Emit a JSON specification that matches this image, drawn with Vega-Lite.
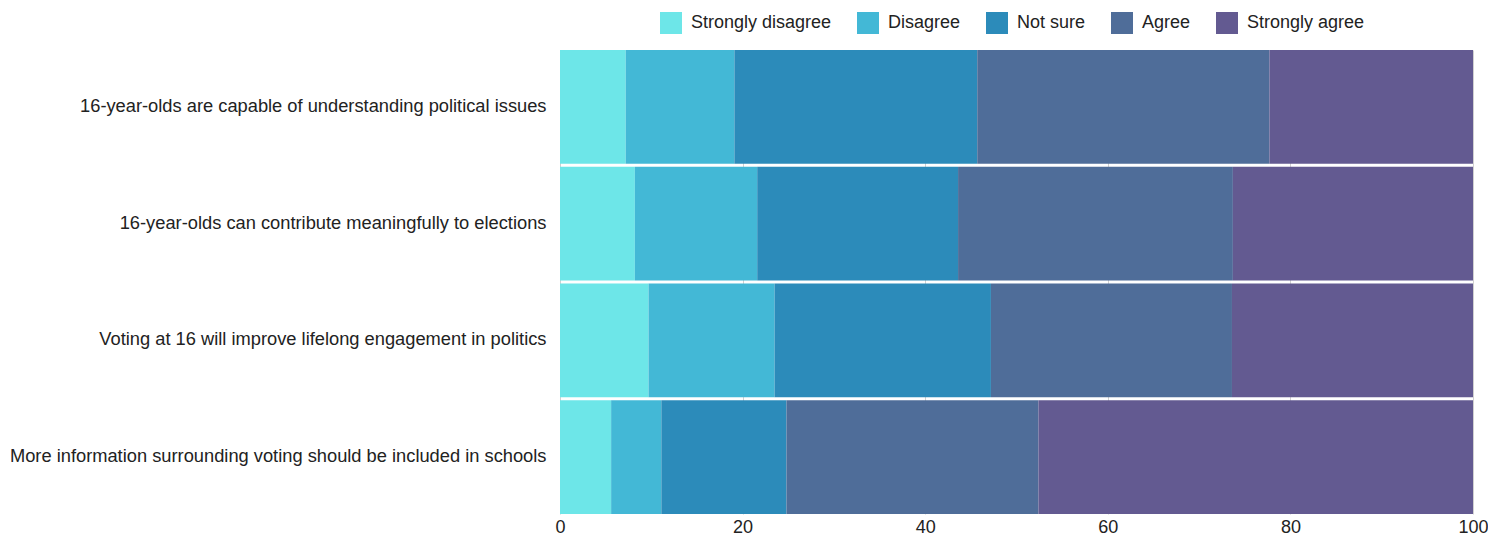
{
  "$schema": "https://vega.github.io/schema/vega-lite/v6.json",
  "autosize": {"type": "none"},
  "padding": {"left": 560, "top": 50, "right": 15, "bottom": 25},
  "width": 913,
  "height": 464,
  "config": {"view": {"stroke": null}, "font": "Liberation Sans", "axis": {"labelFont": "Liberation Sans"}, "legend": {"labelFont": "Liberation Sans"}},
  "data": {"values": [
    {"statement": "16-year-olds are capable of understanding political issues", "response": "Strongly disagree", "k": 1, "pct": 7.2},
    {"statement": "16-year-olds are capable of understanding political issues", "response": "Disagree", "k": 2, "pct": 11.9},
    {"statement": "16-year-olds are capable of understanding political issues", "response": "Not sure", "k": 3, "pct": 26.6},
    {"statement": "16-year-olds are capable of understanding political issues", "response": "Agree", "k": 4, "pct": 32.0},
    {"statement": "16-year-olds are capable of understanding political issues", "response": "Strongly agree", "k": 5, "pct": 22.3},
    {"statement": "16-year-olds can contribute meaningfully to elections", "response": "Strongly disagree", "k": 1, "pct": 8.2},
    {"statement": "16-year-olds can contribute meaningfully to elections", "response": "Disagree", "k": 2, "pct": 13.4},
    {"statement": "16-year-olds can contribute meaningfully to elections", "response": "Not sure", "k": 3, "pct": 22.0},
    {"statement": "16-year-olds can contribute meaningfully to elections", "response": "Agree", "k": 4, "pct": 30.1},
    {"statement": "16-year-olds can contribute meaningfully to elections", "response": "Strongly agree", "k": 5, "pct": 26.3},
    {"statement": "Voting at 16 will improve lifelong engagement in politics", "response": "Strongly disagree", "k": 1, "pct": 9.7},
    {"statement": "Voting at 16 will improve lifelong engagement in politics", "response": "Disagree", "k": 2, "pct": 13.8},
    {"statement": "Voting at 16 will improve lifelong engagement in politics", "response": "Not sure", "k": 3, "pct": 23.7},
    {"statement": "Voting at 16 will improve lifelong engagement in politics", "response": "Agree", "k": 4, "pct": 26.4},
    {"statement": "Voting at 16 will improve lifelong engagement in politics", "response": "Strongly agree", "k": 5, "pct": 26.4},
    {"statement": "More information surrounding voting should be included in schools", "response": "Strongly disagree", "k": 1, "pct": 5.6},
    {"statement": "More information surrounding voting should be included in schools", "response": "Disagree", "k": 2, "pct": 5.5},
    {"statement": "More information surrounding voting should be included in schools", "response": "Not sure", "k": 3, "pct": 13.7},
    {"statement": "More information surrounding voting should be included in schools", "response": "Agree", "k": 4, "pct": 27.6},
    {"statement": "More information surrounding voting should be included in schools", "response": "Strongly agree", "k": 5, "pct": 47.6}
  ]},
  "mark": {"type": "bar"},
  "encoding": {
    "y": {
      "field": "statement", "type": "nominal", "sort": null,
      "scale": {"paddingInner": 0.025, "paddingOuter": 0},
      "axis": {"title": null, "ticks": false, "domain": false, "labelFontSize": 18.3, "labelColor": "#222", "labelPadding": 14, "labelLimit": 600}
    },
    "x": {
      "field": "pct", "type": "quantitative", "stack": "zero",
      "scale": {"domain": [0, 100], "nice": false},
      "axis": {"title": null, "values": [0, 20, 40, 60, 80, 100], "ticks": false, "domain": false, "grid": true, "gridColor": "#d0d0d0", "labelFontSize": 18, "labelColor": "#222", "labelPadding": 4, "labelFlush": false}
    },
    "color": {
      "field": "response", "type": "nominal",
      "scale": {
        "domain": ["Strongly disagree", "Disagree", "Not sure", "Agree", "Strongly agree"],
        "range": ["#6de6e8", "#43b8d6", "#2c8bba", "#4f6d99", "#635a91"]
      },
      "legend": {
        "title": null, "orient": "none", "legendX": 100, "legendY": -38, "direction": "horizontal",
        "symbolType": "square", "symbolSize": 484, "symbolStrokeWidth": 0,
        "labelFontSize": 18, "labelColor": "#222", "columnPadding": 25, "labelOffset": 9
      }
    },
    "order": {"field": "k", "type": "quantitative"}
  }
}
